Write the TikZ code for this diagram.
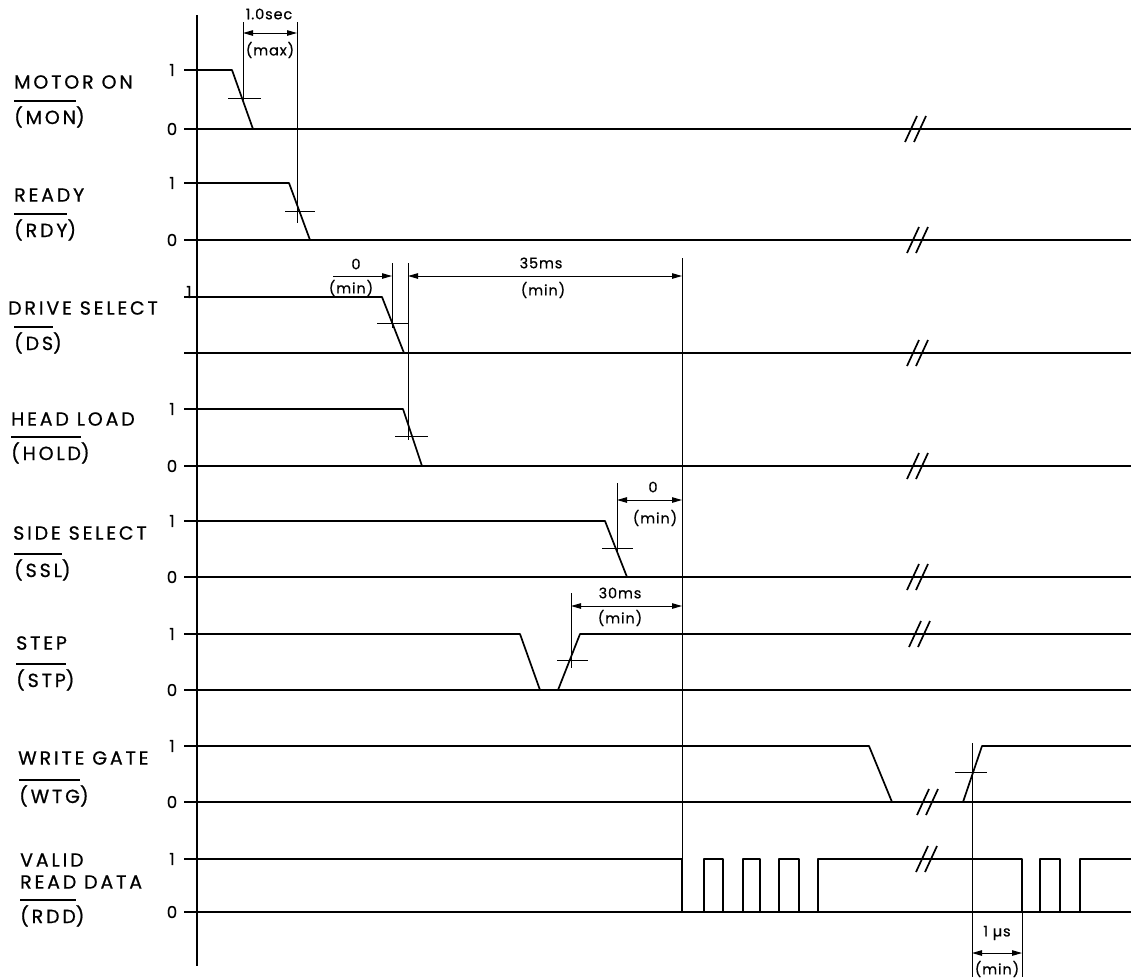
\documentclass[tikz,border=0pt]{standalone}
\usepackage{fontspec}
\setmainfont{Poppins}[LetterSpace=15,FakeBold=0.8]
\newfontfamily\numfont{Poppins}[LetterSpace=6,FakeBold=0.6]
\usetikzlibrary{arrows.meta}
\newcommand\ovl[1]{\vbox{\hrule height 1.3pt\kern 4.5pt\hbox{#1}}}
\newcommand\brk[2]{\draw[sig] ({#1-11},{#2+13}) -- ({#1+1},{#2-13}); \draw[sig] ({#1-2},{#2+13}) -- ({#1+10},{#2-13});}
\begin{document}
\begin{tikzpicture}[x=1pt,y=-1pt,line join=round,
  sig/.style={line width=1.7pt},
  thn/.style={line width=0.9pt},
  dimboth/.style={line width=1pt,{Triangle[length=10pt,width=5.5pt]}-{Triangle[length=10pt,width=5.5pt]}},
  dimone/.style={line width=1pt,-{Triangle[length=10pt,width=5.5pt]}},
  lbl/.style={anchor=west,inner sep=0,font=\fontsize{19}{22}\selectfont,align=left},
  lvl/.style={inner sep=0,font=\numfont\fontsize{16.5}{18}\selectfont},
  dimt/.style={inner sep=0,font=\numfont\fontsize{14.5}{17}\selectfont}]
\useasboundingbox (0,0) rectangle (1131,978);
% axis
\coordinate (axT) at (197,15);
\coordinate (axB) at (197,966);
\draw[sig] (axT) -- (axB);

% labels
\node[lbl] (lMON) at (14,82) {MOTOR ON};
\node[lbl] (lMONb) at (14,114) {\ovl{(MON})};
\node[lbl] (lRDY) at (14,195) {READY};
\node[lbl] (lRDYb) at (14,227) {\ovl{(RDY})};
\node[lbl] (lDS) at (8,308) {DRIVE SELECT};
\node[lbl] (lDSb) at (14,340) {\ovl{(DS})};
\node[lbl] (lHOLD) at (11,419) {HEAD LOAD};
\node[lbl] (lHOLDb) at (11,450) {\ovl{(HOLD})};
\node[lbl] (lSSL) at (13,533) {SIDE SELECT};
\node[lbl] (lSSLb) at (14,567) {\ovl{(SSL})};
\node[lbl] (lSTP) at (16,643) {STEP};
\node[lbl] (lSTPb) at (16,677) {\ovl{(STP})};
\node[lbl] (lWTG) at (18,758) {WRITE GATE};
\node[lbl] (lWTGb) at (19,793) {\ovl{(WTG})};
\node[lbl] (lRDD1) at (20,860) {VALID};
\node[lbl] (lRDD2) at (20,882) {READ DATA};
\node[lbl] (lRDDb) at (20,913) {\ovl{(RDD})};

% level labels
\foreach \y/\t [count=\i] in {70/1,129/0,183/1,240/0,409/1,466/0,521/1,577/0,634/1,690/0,746/1,802/0,859/1,912/0}
  \node[lvl] (lv\i) at (172,\y) {\t};
\node[lvl] (lvDS) at (189,292) {1};

% MOTOR ON
\draw[sig] (184,70) -- (232,70) -- (253,129);
\draw[sig] (184,129) -- (1131,129);
\brk{916}{129}
\draw[thn] (228,98) -- (261,98);
% READY
\draw[sig] (184,183) -- (289,183) -- (310,240);
\draw[sig] (184,240) -- (1131,240);
\brk{918}{240}
\draw[thn] (285,211) -- (315,211);
% 1.0 sec dimension
\coordinate (a1t) at (243,22); \coordinate (a1b) at (243,100);
\coordinate (a2t) at (297,22); \coordinate (a2b) at (297,223);
\draw[thn] (a1t) -- (a1b);
\draw[thn] (a2t) -- (a2b);
\coordinate (d1a) at (243,33); \coordinate (d1b) at (297,33);
\draw[dimboth] (d1a) -- (d1b);
\node[dimt] (t1) at (269,14) {1.0sec};
\node[dimt] (t1b) at (270,50) {(max)};

% DRIVE SELECT
\draw[sig] (184,297) -- (382,297) -- (404,353);
\draw[sig] (184,353) -- (1131,353);
\brk{918}{353}
\draw[thn] (377,323) -- (408,323);
\coordinate (b1t) at (392,263); \coordinate (b1b) at (392,328);
\coordinate (b2t) at (408,263); \coordinate (b2b) at (408,440);
\coordinate (b3t) at (682,258); \coordinate (b3b) at (682,912);
\draw[thn] (b1t) -- (b1b);
\draw[thn] (b2t) -- (b2b);
\draw[thn] (b3t) -- (b3b);
\coordinate (d2a) at (333,276); \coordinate (d2b) at (392,276);
\draw[dimone] (d2a) -- (d2b);
\coordinate (d3a) at (408,276); \coordinate (d3b) at (682,276);
\draw[dimboth] (d3a) -- (d3b);
\node[dimt] (t2) at (356,264) {0};
\node[dimt] (t2b) at (351,288) {(min)};
\node[dimt] (t3) at (541,263) {35ms};
\node[dimt] (t3b) at (543,290) {(min)};

% HEAD LOAD
\draw[sig] (184,409) -- (403,409) -- (422,466);
\draw[sig] (184,466) -- (1131,466);
\brk{918}{466}
\draw[thn] (395,436) -- (428,436);

% SIDE SELECT
\draw[sig] (184,521) -- (605,521) -- (627,577);
\draw[sig] (184,577) -- (1131,577);
\brk{918}{577}
\draw[thn] (602,548) -- (633,548);
\coordinate (c1t) at (617,483); \coordinate (c1b) at (617,552);
\draw[thn] (c1t) -- (c1b);
\coordinate (d4a) at (617,500); \coordinate (d4b) at (682,500);
\draw[dimboth] (d4a) -- (d4b);
\node[dimt] (t4) at (653,487) {0};
\node[dimt] (t4b) at (655,518) {(min)};

% STEP
\draw[sig] (184,634) -- (520,634) -- (540,690) -- (558,690) -- (580,634) -- (1131,634);
\draw[sig] (184,690) -- (1131,690);
\brk{920}{634}
\draw[thn] (557,660) -- (588,660);
\coordinate (e1t) at (571,593); \coordinate (e1b) at (571,668);
\draw[thn] (e1t) -- (e1b);
\coordinate (d5a) at (571,606); \coordinate (d5b) at (682,606);
\draw[dimboth] (d5a) -- (d5b);
\node[dimt] (t5) at (620,593) {30ms};
\node[dimt] (t5b) at (620,618) {(min)};

% WRITE GATE
\draw[sig] (184,746) -- (869,746) -- (892,802);
\draw[sig] (184,802) -- (1131,802);
\draw[sig] (963,802) -- (982,746) -- (1131,746);
\brk{928}{802}
\draw[thn] (955,772) -- (987,772);
\coordinate (f1t) at (972,743); \coordinate (f1b) at (972,977);
\draw[thn] (f1t) -- (f1b);

% VALID READ DATA
\draw[sig] (184,859) -- (682,859) -- (682,912) -- (704,912) -- (704,859) -- (723,859) -- (723,912)
  -- (743,912) -- (743,859) -- (760,859) -- (760,912) -- (779,912) -- (779,859) -- (799,859) -- (799,912)
  -- (818,912) -- (818,859) -- (1022,859) -- (1022,912) -- (1040,912) -- (1040,859) -- (1060,859)
  -- (1060,912) -- (1080,912) -- (1080,859) -- (1131,859);
\draw[sig] (184,912) -- (1131,912);
\brk{927}{859}
\coordinate (g1t) at (1022,912); \coordinate (g1b) at (1022,977);
\draw[thn] (g1t) -- (g1b);
\coordinate (d6a) at (972,953); \coordinate (d6b) at (1022,953);
\draw[dimboth] (d6a) -- (d6b);
\node[dimt] (t6) at (997,933) {1 µs};
\node[dimt] (t6b) at (997,969) {(min)};
\end{tikzpicture}
\end{document}
